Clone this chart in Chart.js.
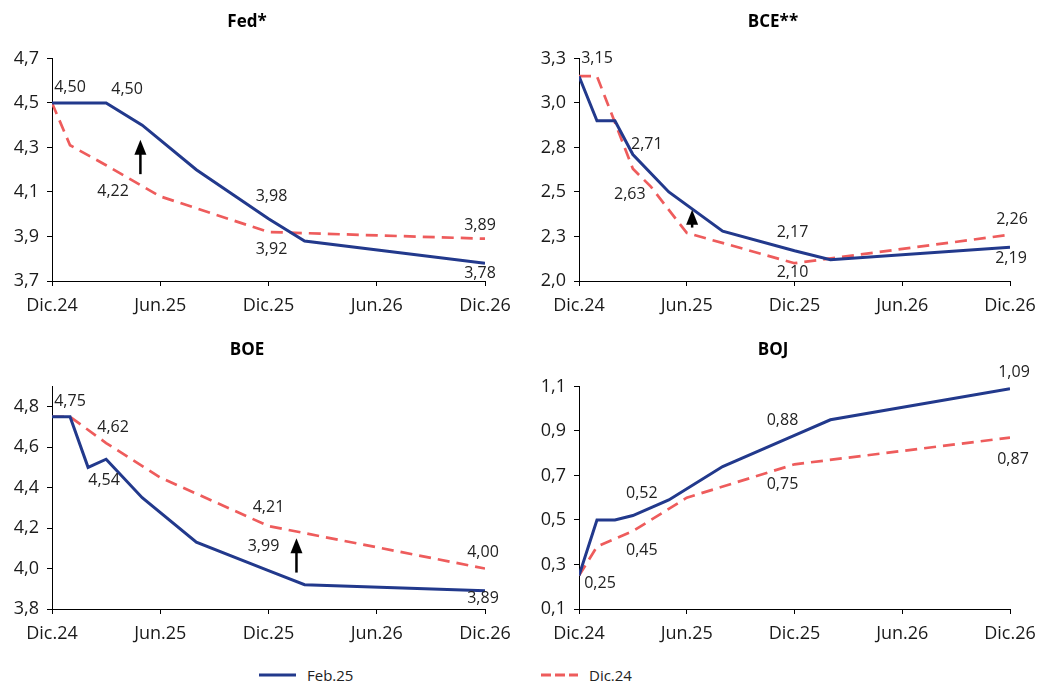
<!DOCTYPE html>
<html>
<head>
<meta charset="utf-8">
<script src="https://cdn.jsdelivr.net/npm/chart.js@4.4.1/dist/chart.umd.min.js"></script>
<style>
  body { margin: 0; background: #fff; width: 1045px; height: 683px; overflow: hidden; position: relative; font-family: 'Open Sans', sans-serif; }
  canvas { position: absolute; }
  .leg { position: absolute; top: 665px; display: flex; align-items: center; font-size: 15px; color: #222; }
  .leg svg { margin-right: 11px; }
</style>
</head>
<body>
<canvas id="fed" width="522" height="325" style="left:0;top:0"></canvas>
<canvas id="bce" width="518" height="325" style="left:527px;top:0"></canvas>
<canvas id="boe" width="522" height="325" style="left:0;top:328px"></canvas>
<canvas id="boj" width="518" height="325" style="left:527px;top:328px"></canvas>

<div class="leg" style="left:259px">
  <svg width="37" height="6"><line x1="0" y1="3" x2="37" y2="3" stroke="#22398c" stroke-width="3"/></svg>Feb.25
</div>
<div class="leg" style="left:541px">
  <svg width="37" height="6"><line x1="0" y1="3" x2="37" y2="3" stroke="#ee5c5c" stroke-width="3" stroke-dasharray="10,4"/></svg>Dic.24
</div>

<script>
// months from Dic.24 (0) to Dic.26 (24)
const xTickValues = [0, 6, 12, 18, 24];
const xTickLabels = ['Dic.24', 'Jun.25', 'Dic.25', 'Jun.26', 'Dic.26'];
const seriesNames = ['Feb.25', 'Dic.24'];

// Fed
const fedFebMonths = [0, 3, 5, 8, 12, 14, 24];
const fedFebValues = [4.50, 4.50, 4.40, 4.20, 3.98, 3.88, 3.78];
const fedDicMonths = [0, 1, 3, 6, 12, 24];
const fedDicValues = [4.50, 4.31, 4.22, 4.08, 3.92, 3.89];
const fedTickValues = [3.7, 3.9, 4.1, 4.3, 4.5, 4.7];
const fedTickLabels = ['3,7', '3,9', '4,1', '4,3', '4,5', '4,7'];

// BCE
const bceFebMonths = [0, 1, 2, 3, 5, 8, 12, 14, 24];
const bceFebValues = [3.15, 2.90, 2.90, 2.71, 2.50, 2.28, 2.17, 2.12, 2.19];
const bceDicMonths = [0, 1, 3, 4, 6, 12, 24];
const bceDicValues = [3.15, 3.15, 2.63, 2.53, 2.27, 2.10, 2.26];
const bceTickValues = [2.0, 2.25, 2.5, 2.75, 3.0, 3.25];
const bceTickLabels = ['2,0', '2,3', '2,5', '2,8', '3,0', '3,3'];

// BOE
const boeFebMonths = [0, 1, 2, 3, 5, 8, 12, 14, 24];
const boeFebValues = [4.75, 4.75, 4.50, 4.54, 4.35, 4.13, 3.99, 3.92, 3.89];
const boeDicMonths = [0, 1, 3, 6, 12, 24];
const boeDicValues = [4.75, 4.75, 4.62, 4.45, 4.21, 4.00];
const boeTickValues = [3.8, 4.0, 4.2, 4.4, 4.6, 4.8];
const boeTickLabels = ['3,8', '4,0', '4,2', '4,4', '4,6', '4,8'];

// BOJ
const bojFebMonths = [0, 1, 2, 3, 5, 8, 12, 14, 24];
const bojFebValues = [0.25, 0.50, 0.50, 0.52, 0.59, 0.74, 0.88, 0.95, 1.09];
const bojDicMonths = [0, 1, 3, 6, 12, 24];
const bojDicValues = [0.25, 0.38, 0.45, 0.60, 0.75, 0.87];
const bojTickValues = [0.1, 0.3, 0.5, 0.7, 0.9, 1.1];
const bojTickLabels = ['0,1', '0,3', '0,5', '0,7', '0,9', '1,1'];

const FONT = "'Open Sans', sans-serif";
const BLUE = '#22398c';
const RED = '#ee5c5c';

function toPoints(months, values) {
    return months.map((m, i) => ({ x: m, y: values[i] }));
}

// labels: [series, index, dx, dy]
function labelPlugin(items) {
    return {
        id: 'valueLabels',
        afterDatasetsDraw(chart) {
            const ctx = chart.ctx;
            ctx.save();
            ctx.font = '16px ' + FONT;
            ctx.fillStyle = '#222';
            ctx.textAlign = 'center';
            ctx.textBaseline = 'middle';
            items.forEach(([s, i, dx, dy]) => {
                const pt = chart.getDatasetMeta(s).data[i];
                const v = chart.data.datasets[s].data[i].y;
                ctx.fillText(v.toFixed(2).replace('.', ','), pt.x + dx, pt.y + dy);
            });
            ctx.restore();
        }
    };
}

// arrow: month, from value, to value
function arrowPlugin(arrow) {
    return {
        id: 'arrowMark',
        afterDatasetsDraw(chart) {
            if (!arrow) return;
            const ctx = chart.ctx;
            const px = chart.scales.x.getPixelForValue(arrow.x);
            const y0 = chart.scales.y.getPixelForValue(arrow.from);
            const y1 = chart.scales.y.getPixelForValue(arrow.to);
            ctx.save();
            ctx.strokeStyle = '#000';
            ctx.fillStyle = '#000';
            ctx.lineWidth = 2.5;
            ctx.beginPath();
            ctx.moveTo(px, y0);
            ctx.lineTo(px, y1 + 12);
            ctx.stroke();
            ctx.beginPath();
            ctx.moveTo(px, y1);
            ctx.lineTo(px - 6, y1 + 15);
            ctx.lineTo(px + 6, y1 + 15);
            ctx.closePath();
            ctx.fill();
            ctx.restore();
        }
    };
}

function makeChart(id, title, feb, dic, yMin, yMax, tickVals, tickLabels, padRight, labels, arrow) {
    const ctx = document.getElementById(id).getContext('2d');
    return new Chart(ctx, {
        type: 'line',
        data: {
            datasets: [
                {
                    label: seriesNames[0],
                    data: feb,
                    borderColor: BLUE,
                    borderWidth: 3,
                    pointRadius: 0,
                    tension: 0,
                    fill: false
                },
                {
                    label: seriesNames[1],
                    data: dic,
                    borderColor: RED,
                    borderWidth: 2.7,
                    borderDash: [12, 7],
                    pointRadius: 0,
                    tension: 0,
                    fill: false
                }
            ]
        },
        options: {
            responsive: false,
            animation: false,
            devicePixelRatio: 1,
            layout: { padding: { left: 9, right: padRight, top: 0, bottom: 0 } },
            scales: {
                x: {
                    type: 'linear',
                    min: 0,
                    max: 24,
                    afterBuildTicks: (scale) => { scale.ticks = xTickValues.map(v => ({ value: v })); },
                    afterFit: (scale) => { scale.height = 44; },
                    ticks: {
                        callback: (v, i) => xTickLabels[i],
                        font: { family: FONT, size: 18 },
                        color: '#1a1a1a',
                        padding: 9,
                        maxRotation: 0,
                        autoSkip: false
                    },
                    grid: { drawOnChartArea: false, drawTicks: true, tickLength: 5, color: '#000' },
                    border: { display: true, color: '#000', width: 1 }
                },
                y: {
                    min: yMin,
                    max: yMax,
                    afterBuildTicks: (scale) => { scale.ticks = tickVals.map(v => ({ value: v })); },
                    afterFit: (scale) => { scale.width = 43; },
                    ticks: {
                        callback: (v, i) => tickLabels[i],
                        font: { family: FONT, size: 18 },
                        color: '#1a1a1a',
                        padding: 8
                    },
                    grid: { drawOnChartArea: false, drawTicks: true, tickLength: 5, color: '#000' },
                    border: { display: true, color: '#000', width: 1 }
                }
            },
            plugins: {
                legend: { display: false },
                tooltip: { enabled: false },
                title: {
                    display: true,
                    text: title,
                    font: { family: FONT, size: 17, weight: 'bold' },
                    color: '#000',
                    padding: { top: 12, bottom: 26 }
                }
            }
        },
        plugins: [labelPlugin(labels), arrowPlugin(arrow)]
    });
}

makeChart('fed', 'Fed*',
    toPoints(fedFebMonths, fedFebValues), toPoints(fedDicMonths, fedDicValues),
    3.7, 4.7, fedTickValues, fedTickLabels, 37,
    [[0, 0, 18, -15], [0, 1, 21, -13], [1, 2, 7, 26], [0, 4, 3, -22], [1, 4, 3, 17], [1, 5, -5, -13], [0, 6, -5, 10]],
    { x: 4.9, from: 4.18, to: 4.335 });

makeChart('bce', 'BCE**',
    toPoints(bceFebMonths, bceFebValues), toPoints(bceDicMonths, bceDicValues),
    2.0, 3.25, bceTickValues, bceTickLabels, 35,
    [[0, 0, 18, -18], [0, 3, 14, -10], [1, 2, -3, 26], [0, 6, -2, -18], [1, 5, -2, 9], [1, 6, 2, -15], [0, 8, 1, 11]],
    { x: 6.3, from: 2.30, to: 2.40 });

makeChart('boe', 'BOE',
    toPoints(boeFebMonths, boeFebValues), toPoints(boeDicMonths, boeDicValues),
    3.8, 4.9, boeTickValues, boeTickLabels, 37,
    [[0, 0, 18, -15], [1, 2, 7, -16], [0, 3, -2, 21], [1, 4, 0, -19], [0, 6, -5, -24], [1, 5, -2, -16], [0, 8, -2, 8]],
    { x: 13.55, from: 3.98, to: 4.15 });

makeChart('boj', 'BOJ',
    toPoints(bojFebMonths, bojFebValues), toPoints(bojDicMonths, bojDicValues),
    0.1, 1.1, bojTickValues, bojTickLabels, 35,
    [[0, 0, 21, 8], [0, 3, 9, -22], [1, 2, 9, 19], [0, 6, -12, -15], [1, 4, -12, 20], [0, 8, 4, -16], [1, 5, 3, 22]],
    null);
</script>
</body>
</html>
